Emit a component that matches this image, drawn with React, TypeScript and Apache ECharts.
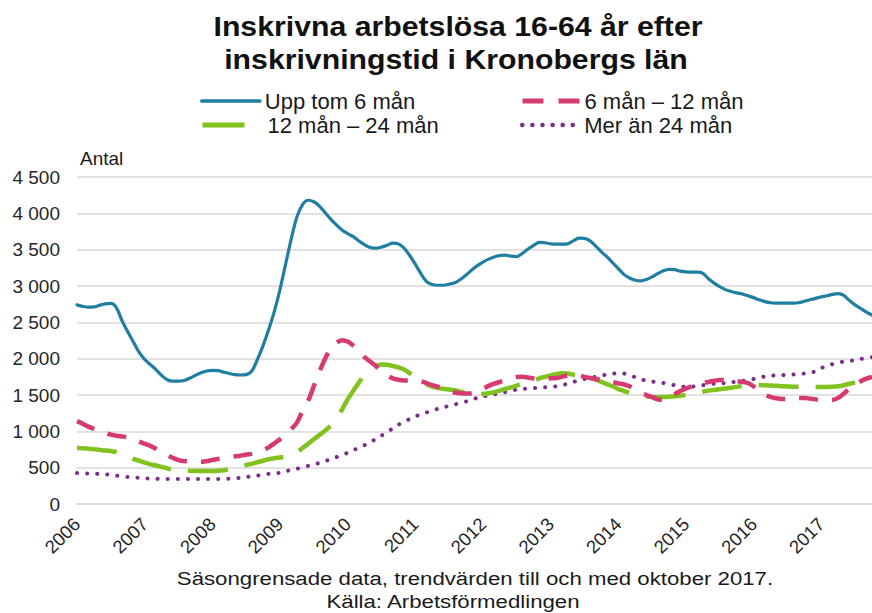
import React, { useEffect, useRef } from "react";
import * as echarts from "echarts";

const years = ["2006", "2007", "2008", "2009", "2010", "2011", "2012", "2013", "2014", "2015", "2016", "2017"];
const months = years
  .flatMap((y) => ["01", "02", "03", "04", "05", "06", "07", "08", "09", "10", "11", "12"].map((m) => `${y}-${m}`))
  .slice(0, 142);

const seriesNames = ["Upp tom 6 mån", "6 mån – 12 mån", "12 mån – 24 mån", "Mer än 24 mån"];

// Upp tom 6 mån (monthly, Jan 2006 – Oct 2017)
const upTo6 = [
  2740, 2720, 2708, 2712, 2735, 2755, 2760, 2700, 2520, 2370, 2230, 2090,
  1990, 1920, 1850, 1770, 1710, 1690, 1690, 1700, 1730, 1770, 1805, 1830,
  1840, 1835, 1815, 1795, 1780, 1775, 1780, 1830, 1990, 2180, 2400, 2650,
  2950, 3300, 3650, 3950, 4120, 4180, 4160, 4100, 4010, 3920, 3840, 3770,
  3720, 3680, 3620, 3570, 3530, 3520, 3535, 3560, 3590, 3580, 3520, 3420,
  3300, 3170, 3060, 3020, 3010, 3010, 3025, 3045, 3090, 3150, 3220, 3280,
  3330, 3370, 3400, 3420, 3425, 3410, 3405, 3450, 3510, 3560, 3600, 3595,
  3580, 3575, 3575, 3580, 3620, 3660, 3655, 3620, 3550, 3470, 3400, 3320,
  3240, 3160, 3110, 3080, 3070, 3090, 3125, 3170, 3210, 3230, 3225, 3205,
  3195, 3190, 3190, 3175, 3100, 3040, 2990, 2950, 2925, 2905, 2890, 2865,
  2840, 2810, 2785, 2770, 2765, 2765, 2765, 2765, 2770, 2790, 2810, 2830,
  2850, 2865, 2885, 2895, 2870, 2800, 2740, 2690, 2640, 2600,
];

// 6 mån – 12 mån
const m6to12 = [
  1140, 1105, 1065, 1035, 1005, 980, 955, 940, 930, 920, 900, 860,
  830, 800, 760, 710, 670, 635, 605, 590, 585, 582, 580, 590,
  605, 618, 630, 640, 655, 665, 680, 690, 705, 740, 780, 835,
  890, 950, 1030, 1120, 1280, 1420, 1620, 1820, 2000, 2140, 2220, 2255,
  2235, 2180, 2110, 2020, 1960, 1900, 1830, 1770, 1730, 1710, 1700, 1700,
  1705, 1690, 1665, 1635, 1615, 1585, 1555, 1535, 1525, 1520, 1522, 1545,
  1585, 1625, 1655, 1680, 1705, 1730, 1748, 1750, 1740, 1728, 1720, 1725,
  1730, 1735, 1750, 1770, 1780, 1770, 1750, 1735, 1720, 1705, 1690, 1680,
  1660, 1645, 1620, 1580, 1530, 1500, 1470, 1440, 1430, 1460, 1510, 1555,
  1590, 1620, 1645, 1665, 1680, 1695, 1705, 1705, 1700, 1690, 1680, 1665,
  1620, 1560, 1500, 1475, 1455, 1445, 1445, 1450, 1460, 1460, 1450, 1440,
  1430, 1430, 1432, 1460, 1520, 1585, 1640, 1690, 1725, 1750,
];

// 12 mån – 24 mån
const m12to24 = [
  770, 768, 762, 755, 745, 737, 728, 715, 690, 655, 620, 595,
  570, 545, 530, 510, 490, 472, 465, 460, 456, 455, 455, 455,
  455, 458, 465, 478, 495, 515, 535, 553, 575, 595, 615, 630,
  640, 650, 670, 710, 770, 830, 890, 950, 1010, 1080, 1180, 1300,
  1440, 1560, 1670, 1780, 1850, 1900, 1920, 1915, 1900, 1880, 1850, 1800,
  1740, 1690, 1650, 1615, 1595, 1585, 1575, 1565, 1545, 1525, 1510, 1510,
  1515, 1525, 1540, 1560, 1585, 1605, 1630, 1660, 1680, 1705, 1730, 1750,
  1770, 1790, 1800, 1795, 1780, 1765, 1750, 1735, 1710, 1680, 1650, 1620,
  1580, 1555, 1530, 1505, 1490, 1480, 1472, 1470, 1472, 1476, 1482, 1490,
  1500, 1515, 1530, 1545, 1560, 1570, 1580, 1590, 1600, 1612, 1625, 1638,
  1640, 1638, 1634, 1630, 1626, 1622, 1618, 1614, 1612, 1610, 1610, 1610,
  1610, 1610, 1612, 1620, 1635, 1655, 1670, 1682, 1695, 1705,
];

// Mer än 24 mån
const over24 = [
  425, 422, 420, 417, 414, 408, 400, 390, 380, 372, 365, 360,
  355, 350, 347, 345, 345, 345, 345, 345, 345, 345, 345, 345,
  345, 345, 346, 348, 352, 360, 370, 380, 390, 402, 415, 422,
  430, 450, 470, 485, 505, 525, 545, 565, 590, 615, 645, 675,
  705, 740, 775, 810, 850, 895, 940, 990, 1040, 1090, 1130, 1170,
  1205, 1235, 1260, 1285, 1310, 1330, 1350, 1370, 1390, 1410, 1435, 1460,
  1480, 1495, 1510, 1525, 1540, 1560, 1575, 1585, 1590, 1595, 1597, 1605,
  1612, 1620, 1635, 1655, 1680, 1700, 1720, 1735, 1750, 1765, 1785, 1795,
  1800, 1795, 1775, 1745, 1715, 1700, 1685, 1675, 1665, 1650, 1635, 1620,
  1610, 1615, 1625, 1635, 1645, 1655, 1660, 1665, 1675, 1685, 1695, 1705,
  1720, 1740, 1755, 1765, 1770, 1773, 1775, 1780, 1788, 1795, 1800, 1830,
  1870, 1905, 1925, 1945, 1960, 1968, 1980, 1995, 2010, 2020,
];

const titleLines = ["Inskrivna arbetslösa 16-64 år efter", "inskrivningstid i Kronobergs län"];
const footLines = ["Säsongrensade data, trendvärden till och med oktober 2017.", "Källa: Arbetsförmedlingen"];

const FONT = '"Liberation Sans", Arial, Helvetica, sans-serif';
const COLORS = ["#1f7ea1", "#d63a70", "#82c21f", "#7b2d8b"];

function fmt(v: number): string {
  if (v >= 1000) {
    const th = Math.floor(v / 1000);
    const rest = String(v % 1000).padStart(3, "0");
    return `${th} ${rest}`;
  }
  return String(v);
}

export default function App() {
  const ref = useRef<HTMLDivElement>(null);

  useEffect(() => {
    if (!ref.current) return;
    const chart = echarts.init(ref.current, undefined, { renderer: "svg" });

    const lineStyles: any[] = [
      { width: 3.2, type: "solid", cap: "round" },
      { width: 4.5, type: [19, 14], cap: "butt" },
      { width: 4.5, type: [40, 17], cap: "butt" },
      { width: 4, type: [0.1, 10], cap: "round" },
    ];
    const legendDash: any[] = ["solid", [21, 15], [42, 30], [0.1, 10]];
    const dataSets = [upTo6, m6to12, m12to24, over24];

    const legendPos = [
      { left: 200, top: 90, itemWidth: 58, pad: 0 },
      { left: 520, top: 90, itemWidth: 57, pad: 0 },
      { left: 200, top: 114, itemWidth: 60, pad: 0 },
      { left: 520, top: 114, itemWidth: 57, pad: 0 },
    ];

    chart.setOption({
      animation: false,
      backgroundColor: "#ffffff",
      textStyle: { fontFamily: FONT },
      graphic: [
        {
          type: "text",
          x: 458,
          y: 27,
          scaleX: 1.12,
          style: {
            text: titleLines[0],
            textAlign: "center",
            textVerticalAlign: "middle",
            font: `bold 27px ${FONT}`,
            fill: "#111111",
          },
        },
        {
          type: "text",
          x: 456,
          y: 60,
          scaleX: 1.12,
          style: {
            text: titleLines[1],
            textAlign: "center",
            textVerticalAlign: "middle",
            font: `bold 27px ${FONT}`,
            fill: "#111111",
          },
        },
        {
          type: "text",
          x: 475,
          y: 578,
          scaleX: 1.17,
          style: {
            text: footLines[0],
            textAlign: "center",
            textVerticalAlign: "middle",
            font: `19px ${FONT}`,
            fill: "#1a1a1a",
          },
        },
        {
          type: "text",
          x: 453,
          y: 601,
          scaleX: 1.17,
          style: {
            text: footLines[1],
            textAlign: "center",
            textVerticalAlign: "middle",
            font: `19px ${FONT}`,
            fill: "#1a1a1a",
          },
        },
      ],
      legend: seriesNames.map((name, i) => ({
        data: [name],
        left: legendPos[i].left,
        top: legendPos[i].top,
        itemWidth: legendPos[i].itemWidth,
        itemHeight: 20,
        padding: 0,
        selectedMode: false,
        itemStyle: { opacity: 0 },
        textStyle: {
          fontSize: 22,
          color: "#1a1a1a",
          fontFamily: FONT,
          padding: [0, 0, 0, legendPos[i].pad],
        },
        lineStyle: {
          width: lineStyles[i].width + 0.5,
          type: legendDash[i],
          cap: lineStyles[i].cap,
          color: COLORS[i],
        },
      })),
      grid: {
        left: 77,
        right: 0,
        top: 177,
        bottom: 109,
        containLabel: false,
        outerBoundsMode: "none",
      },
      xAxis: {
        type: "category",
        data: months,
        boundaryGap: false,
        axisTick: { show: false },
        axisLine: { show: true, lineStyle: { color: "#d9d9d9", width: 1.5 } },
        axisLabel: {
          interval: (idx: number) => idx % 12 === 0,
          formatter: (v: string) => v.slice(0, 4),
          rotate: 45,
          margin: 17,
          fontSize: 18.5,
          color: "#262626",
          fontFamily: FONT,
        },
        splitLine: { show: false },
      },
      yAxis: {
        type: "value",
        min: 0,
        max: 4500,
        interval: 500,
        name: "Antal",
        nameLocation: "end",
        nameGap: 9,
        nameTextStyle: {
          align: "left",
          fontSize: 19,
          color: "#1a1a1a",
          fontFamily: FONT,
          padding: [0, 0, 0, 3],
        },
        axisLine: { show: false },
        axisTick: { show: false },
        axisLabel: {
          formatter: (v: number) => fmt(v),
          margin: 17,
          fontSize: 19,
          color: "#262626",
          fontFamily: FONT,
        },
        splitLine: { lineStyle: { color: "#d9d9d9", width: 1.5 } },
      },
      series: seriesNames.map((name, i) => ({
        name,
        type: "line",
        data: dataSets[i],
        symbol: "none",
        smooth: 0.3,
        color: COLORS[i],
        lineStyle: { color: COLORS[i], ...lineStyles[i] },
        z: 10 - i,
      })),
    });

    return () => {
      chart.dispose();
    };
  }, []);

  return (
    <div style={{ position: "fixed", left: 0, top: 0, width: 872, height: 613, overflow: "hidden", background: "#fff" }}>
      <div ref={ref} style={{ width: 872, height: 613 }} />
    </div>
  );
}
